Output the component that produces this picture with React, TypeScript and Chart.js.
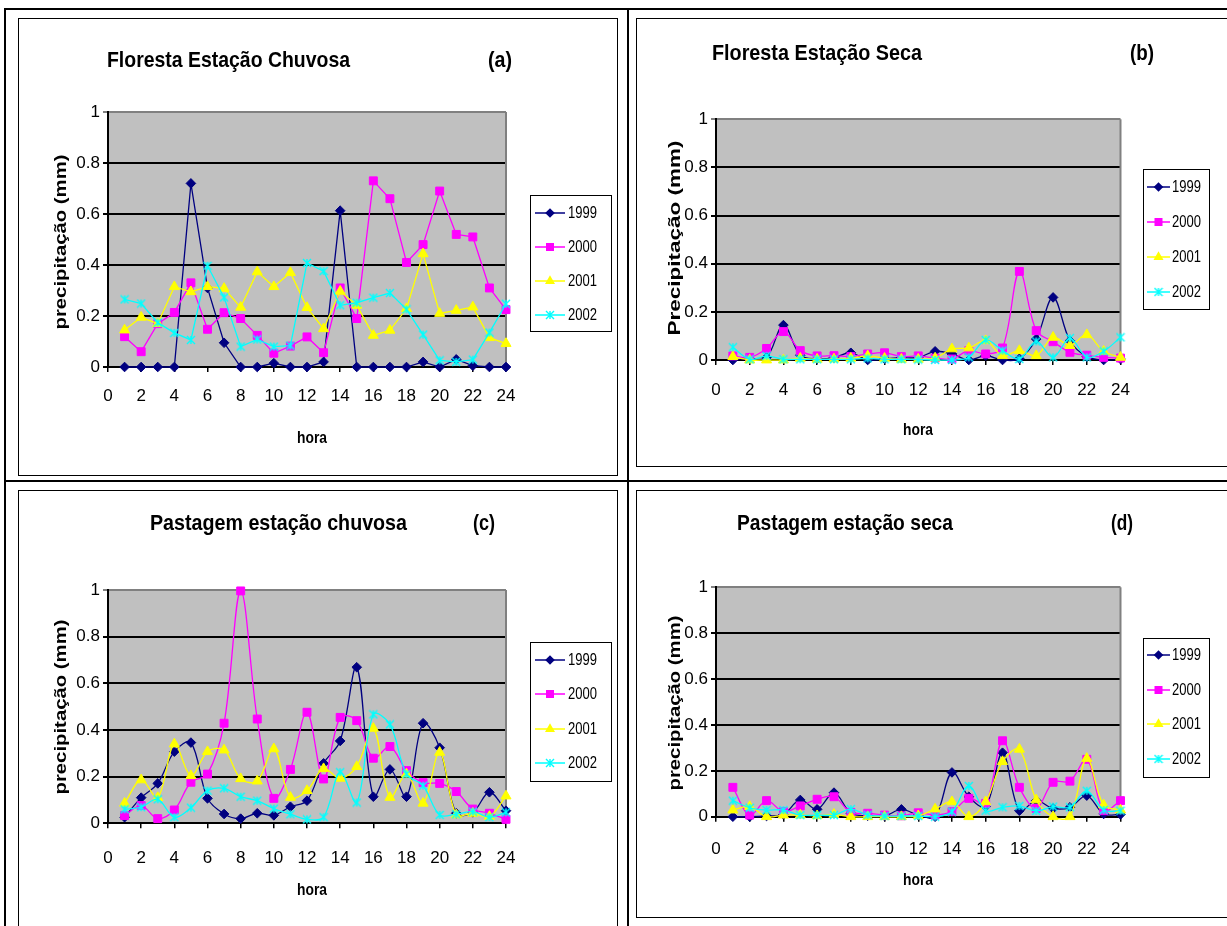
import React, { useEffect, useRef } from "react";
import { Chart, registerables } from "chart.js";

Chart.register(...registerables);

// ---------------- data ----------------
const hours = [1, 2, 3, 4, 5, 6, 7, 8, 9, 10, 11, 12, 13, 14, 15, 16, 17, 18, 19, 20, 21, 22, 23, 24];
const xTickValues = [0, 2, 4, 6, 8, 10, 12, 14, 16, 18, 20, 22, 24];
const xTickLabels = ["0", "2", "4", "6", "8", "10", "12", "14", "16", "18", "20", "22", "24"];
const yTickValues = [0, 0.2, 0.4, 0.6, 0.8, 1];
const yTickLabels = ["0", "0.2", "0.4", "0.6", "0.8", "1"];
const seriesNames = ["1999", "2000", "2001", "2002"];

// (a) Floresta Estação Chuvosa
const florestaChuvosa1999 = [0, 0, 0, 0, 0.72, 0.31, 0.095, 0, 0, 0.015, 0, 0, 0.02, 0.613, 0, 0, 0, 0, 0.02, 0, 0.03, 0.005, 0, 0];
const florestaChuvosa2000 = [0.119, 0.06, 0.17, 0.214, 0.33, 0.148, 0.213, 0.19, 0.124, 0.054, 0.082, 0.118, 0.056, 0.31, 0.19, 0.73, 0.66, 0.41, 0.48, 0.69, 0.52, 0.51, 0.31, 0.225];
const florestaChuvosa2001 = [0.145, 0.195, 0.17, 0.315, 0.295, 0.315, 0.308, 0.234, 0.373, 0.315, 0.37, 0.233, 0.15, 0.297, 0.242, 0.124, 0.144, 0.229, 0.444, 0.21, 0.222, 0.235, 0.115, 0.092];
const florestaChuvosa2002 = [0.265, 0.249, 0.174, 0.134, 0.106, 0.397, 0.273, 0.08, 0.108, 0.08, 0.084, 0.408, 0.376, 0.242, 0.252, 0.272, 0.29, 0.226, 0.127, 0.026, 0.02, 0.029, 0.135, 0.248];

// (b) Floresta Estação Seca
const florestaSeca1999 = [0, 0.005, 0.01, 0.145, 0.02, 0.005, 0.01, 0.03, 0, 0.005, 0.01, 0.01, 0.036, 0.025, 0, 0.018, 0, 0.005, 0.087, 0.26, 0.08, 0.014, 0, 0.004];
const florestaSeca2000 = [0.017, 0.011, 0.048, 0.118, 0.039, 0.017, 0.018, 0.014, 0.025, 0.03, 0.014, 0.017, 0.008, 0.004, 0.039, 0.025, 0.05, 0.368, 0.122, 0.076, 0.032, 0.02, 0.011, 0.008];
const florestaSeca2001 = [0.014, 0, 0, 0, 0.007, 0.003, 0.004, 0.007, 0.017, 0.007, 0.003, 0.003, 0.008, 0.046, 0.05, 0.08, 0.018, 0.039, 0.018, 0.094, 0.06, 0.105, 0.036, 0.011];
const florestaSeca2002 = [0.053, 0.003, 0.017, 0.003, 0.003, 0.003, 0.003, 0.003, 0.007, 0.003, 0.003, 0.002, 0, 0, 0.011, 0.083, 0.039, 0.004, 0.077, 0.011, 0.091, 0.011, 0.036, 0.094];

// (c) Pastagem estação chuvosa
const pastagemChuvosa1999 = [0.026, 0.11, 0.171, 0.307, 0.346, 0.107, 0.04, 0.02, 0.043, 0.034, 0.071, 0.097, 0.257, 0.353, 0.669, 0.114, 0.231, 0.114, 0.429, 0.324, 0.043, 0.047, 0.133, 0.054];
const pastagemChuvosa2000 = [0.033, 0.076, 0.02, 0.057, 0.176, 0.211, 0.429, 0.996, 0.447, 0.107, 0.231, 0.476, 0.19, 0.454, 0.44, 0.279, 0.329, 0.226, 0.174, 0.171, 0.136, 0.061, 0.043, 0.017];
const pastagemChuvosa2001 = [0.086, 0.186, 0.11, 0.34, 0.204, 0.307, 0.314, 0.191, 0.181, 0.319, 0.111, 0.14, 0.234, 0.193, 0.243, 0.407, 0.111, 0.211, 0.086, 0.304, 0.036, 0.043, 0.029, 0.117];
const pastagemChuvosa2002 = [0.06, 0.069, 0.103, 0.026, 0.067, 0.14, 0.15, 0.114, 0.097, 0.063, 0.039, 0.017, 0.026, 0.219, 0.089, 0.467, 0.424, 0.211, 0.161, 0.036, 0.039, 0.05, 0.026, 0.047];

// (d) Pastagem estação seca
const pastagemSeca1999 = [0, 0, 0.003, 0.01, 0.073, 0.032, 0.105, 0.015, 0.004, 0.003, 0.032, 0.007, 0, 0.193, 0.087, 0.044, 0.279, 0.026, 0.07, 0.036, 0.041, 0.092, 0.012, 0.01];
const pastagemSeca2000 = [0.128, 0.007, 0.07, 0.022, 0.047, 0.076, 0.087, 0.019, 0.015, 0.007, 0.004, 0.017, 0.007, 0.022, 0.08, 0.058, 0.331, 0.128, 0.036, 0.15, 0.155, 0.25, 0.026, 0.07];
const pastagemSeca2001 = [0.029, 0.044, 0, 0.007, 0.007, 0.004, 0.01, 0, 0, 0, 0, 0.004, 0.033, 0.065, 0, 0.065, 0.24, 0.294, 0.073, 0, 0, 0.254, 0.051, 0.029];
const pastagemSeca2002 = [0.07, 0.039, 0.029, 0.029, 0.007, 0.007, 0.007, 0.033, 0.007, 0.003, 0.003, 0.003, 0, 0.022, 0.134, 0.026, 0.041, 0.047, 0.025, 0.044, 0.041, 0.113, 0.029, 0.026];

// ---------------- styles / layout ----------------
const FONT = "'Liberation Sans', Arial, sans-serif";

const SERIES_STYLE = [
  { color: "#000080", marker: "diamond" },
  { color: "#FF00FF", marker: "square" },
  { color: "#FFFF00", marker: "triangle" },
  { color: "#00FFFF", marker: "star" },
];

type Legend = { l: number; t: number; r: number; b: number; rows: number[]; lx1: number; lx2: number; tx: number; tw: number };
type Panel = {
  key: string;
  box: { x: number; y: number; w: number; h: number };
  plot: { l: number; r: number; t: number; b: number };
  series: number[][];
  tension: number;
  title: string;
  titlePos: { x: number; y: number; w: number };
  tag: string;
  tagPos: { x: number; y: number; w: number };
  yTitle: string;
  yTitlePos: { x: number; y: number; len: number };
  xTitlePos: { x: number; y: number; w: number };
  tickGap: number;
  legend: Legend;
};

const PANELS: Panel[] = [
  {
    key: "a",
    box: { x: 18, y: 18, w: 600, h: 458 },
    plot: { l: 108, r: 506, t: 112, b: 367 },
    series: [florestaChuvosa1999, florestaChuvosa2000, florestaChuvosa2001, florestaChuvosa2002],
    tension: 0,
    title: "Floresta Estação Chuvosa",
    titlePos: { x: 107, y: 61, w: 243 },
    tag: "(a)",
    tagPos: { x: 500, y: 61, w: 24 },
    yTitle: "precipitação (mm)",
    yTitlePos: { x: 62, y: 242, len: 175 },
    xTitlePos: { x: 312, y: 438, w: 30 },
    tickGap: 14,
    legend: { l: 530, t: 195, r: 611, b: 331, rows: [213, 247, 281, 315], lx1: 535, lx2: 565, tx: 568, tw: 29 },
  },
  {
    key: "b",
    box: { x: 636, y: 18, w: 600, h: 449 },
    plot: { l: 716, r: 1120.5, t: 119.3, b: 360 },
    series: [florestaSeca1999, florestaSeca2000, florestaSeca2001, florestaSeca2002],
    tension: 0.35,
    title: "Floresta Estação Seca",
    titlePos: { x: 712, y: 54, w: 210 },
    tag: "(b)",
    tagPos: { x: 1142, y: 54, w: 24 },
    yTitle: "Precipitação (mm)",
    yTitlePos: { x: 676, y: 238, len: 195 },
    xTitlePos: { x: 918, y: 430, w: 30 },
    tickGap: 15,
    legend: { l: 1143, t: 169, r: 1209, b: 309, rows: [187, 222, 257, 292], lx1: 1147, lx2: 1170, tx: 1172, tw: 29 },
  },
  {
    key: "c",
    box: { x: 18, y: 490, w: 600, h: 450 },
    plot: { l: 108, r: 506, t: 590, b: 823.3 },
    series: [pastagemChuvosa1999, pastagemChuvosa2000, pastagemChuvosa2001, pastagemChuvosa2002],
    tension: 0.35,
    title: "Pastagem estação chuvosa",
    titlePos: { x: 150, y: 524, w: 257 },
    tag: "(c)",
    tagPos: { x: 484, y: 524, w: 22 },
    yTitle: "precipitação (mm)",
    yTitlePos: { x: 62, y: 707, len: 175 },
    xTitlePos: { x: 312, y: 890, w: 30 },
    tickGap: 20,
    legend: { l: 530, t: 642, r: 611, b: 781, rows: [660, 694, 729, 763], lx1: 535, lx2: 565, tx: 568, tw: 29 },
  },
  {
    key: "d",
    box: { x: 636, y: 490, w: 600, h: 428 },
    plot: { l: 716, r: 1120.5, t: 587.3, b: 816.7 },
    series: [pastagemSeca1999, pastagemSeca2000, pastagemSeca2001, pastagemSeca2002],
    tension: 0.35,
    title: "Pastagem estação seca",
    titlePos: { x: 737, y: 524, w: 216 },
    tag: "(d)",
    tagPos: { x: 1122, y: 524, w: 22 },
    yTitle: "precipitação (mm)",
    yTitlePos: { x: 676, y: 703, len: 175 },
    xTitlePos: { x: 918, y: 880, w: 30 },
    tickGap: 17,
    legend: { l: 1143, t: 638, r: 1209, b: 777, rows: [655, 690, 724, 759], lx1: 1147, lx2: 1170, tx: 1172, tw: 29 },
  },
];

// ---------------- helpers ----------------
function makeStar(color: string) {
  const size = 10;
  const c = document.createElement("canvas");
  c.width = size;
  c.height = size;
  const g = c.getContext("2d")!;
  g.strokeStyle = color;
  g.lineWidth = 1.4;
  g.beginPath();
  g.moveTo(1, 1);
  g.lineTo(size - 1, size - 1);
  g.moveTo(size - 1, 1);
  g.lineTo(1, size - 1);
  g.moveTo(size / 2, 1);
  g.lineTo(size / 2, size - 1);
  g.stroke();
  return c;
}

function drawText(
  ctx: CanvasRenderingContext2D,
  text: string,
  x: number,
  y: number,
  font: string,
  width: number,
  align: CanvasTextAlign,
  rotate = false
) {
  ctx.save();
  ctx.font = font;
  ctx.fillStyle = "#000";
  ctx.textBaseline = "middle";
  ctx.textAlign = align;
  const natural = ctx.measureText(text).width || 1;
  ctx.translate(x, y);
  if (rotate) ctx.rotate(-Math.PI / 2);
  ctx.scale(width / natural, 1);
  ctx.fillText(text, 0, 0);
  ctx.restore();
}

function drawMarker(ctx: CanvasRenderingContext2D, kind: string, x: number, y: number, color: string, star: HTMLCanvasElement) {
  ctx.save();
  ctx.fillStyle = color;
  ctx.strokeStyle = color;
  ctx.lineWidth = 1;
  if (kind === "diamond") {
    const r = 4.8;
    ctx.beginPath();
    ctx.moveTo(x, y - r);
    ctx.lineTo(x + r, y);
    ctx.lineTo(x, y + r);
    ctx.lineTo(x - r, y);
    ctx.closePath();
    ctx.fill();
  } else if (kind === "square") {
    ctx.fillRect(x - 4, y - 4, 8, 8);
  } else if (kind === "triangle") {
    const r = 5.8;
    ctx.beginPath();
    ctx.moveTo(x, y - r);
    ctx.lineTo(x + r * 0.866, y + r / 2);
    ctx.lineTo(x - r * 0.866, y + r / 2);
    ctx.closePath();
    ctx.fill();
  } else {
    ctx.drawImage(star, x - star.width / 2, y - star.height / 2);
  }
  ctx.restore();
}

function PanelChart({ p }: { p: Panel }) {
  const ref = useRef<HTMLCanvasElement | null>(null);

  useEffect(() => {
    const canvas = ref.current;
    if (!canvas) return;
    const ox = p.box.x;
    const oy = p.box.y;
    const plotL = p.plot.l - ox;
    const plotR = p.plot.r - ox;
    const plotT = p.plot.t - oy;
    const plotB = p.plot.b - oy;
    const Y_W = 40;
    const X_H = 45;
    const star = makeStar(SERIES_STYLE[3].color);

    const decoPlugin = {
      id: "excelDeco",
      beforeDraw(chart: any) {
        const { ctx, chartArea: a } = chart;
        ctx.save();
        ctx.fillStyle = "#fff";
        ctx.fillRect(0, 0, chart.width, chart.height);
        ctx.fillStyle = "#C0C0C0";
        ctx.fillRect(a.left, a.top, a.right - a.left, a.bottom - a.top);
        ctx.restore();
      },
      beforeDatasetsDraw(chart: any) {
        const { ctx, chartArea: a } = chart;
        ctx.save();
        ctx.strokeStyle = "#808080";
        ctx.lineWidth = 2;
        ctx.beginPath();
        ctx.moveTo(a.right, a.top);
        ctx.lineTo(a.right, a.bottom);
        ctx.stroke();
        ctx.restore();
      },
      afterDraw(chart: any) {
        const ctx: CanvasRenderingContext2D = chart.ctx;
        // titles
        drawText(ctx, p.title, p.titlePos.x - ox, p.titlePos.y - oy, `bold 22px ${FONT}`, p.titlePos.w, "left");
        drawText(ctx, p.tag, p.tagPos.x - ox, p.tagPos.y - oy, `bold 22px ${FONT}`, p.tagPos.w, "center");
        // axis titles
        drawText(ctx, p.yTitle, p.yTitlePos.x - ox, p.yTitlePos.y - oy, `bold 16px ${FONT}`, p.yTitlePos.len, "center", true);
        drawText(ctx, "hora", p.xTitlePos.x - ox, p.xTitlePos.y - oy, `bold 17px ${FONT}`, p.xTitlePos.w, "center");
        // legend
        const L = p.legend;
        ctx.save();
        ctx.fillStyle = "#fff";
        ctx.fillRect(L.l - ox, L.t - oy, L.r - L.l, L.b - L.t);
        ctx.strokeStyle = "#000";
        ctx.lineWidth = 1;
        ctx.strokeRect(L.l - ox + 0.5, L.t - oy + 0.5, L.r - L.l, L.b - L.t);
        ctx.restore();
        seriesNames.forEach((name, i) => {
          const st = SERIES_STYLE[i];
          const ry = L.rows[i] - oy;
          ctx.save();
          ctx.strokeStyle = st.color;
          ctx.lineWidth = 1.5;
          ctx.beginPath();
          ctx.moveTo(L.lx1 - ox, ry);
          ctx.lineTo(L.lx2 - ox, ry);
          ctx.stroke();
          ctx.restore();
          drawMarker(ctx, st.marker, (L.lx1 + L.lx2) / 2 - ox, ry, st.color, star);
          drawText(ctx, name, L.tx - ox, ry, `17px ${FONT}`, L.tw, "left");
        });
      },
    };

    const pointStyles: any[] = ["rectRot", "rect", "triangle", star];
    const radii = [4.8, 5.6, 5.8, 5];

    const datasets = p.series.map((vals, i) => ({
      label: seriesNames[i],
      data: hours.map((h, j) => ({ x: h, y: vals[j] })),
      borderColor: SERIES_STYLE[i].color,
      backgroundColor: SERIES_STYLE[i].color,
      pointBackgroundColor: SERIES_STYLE[i].color,
      pointBorderColor: SERIES_STYLE[i].color,
      pointBorderWidth: 1,
      pointStyle: pointStyles[i],
      pointRadius: radii[i],
      borderWidth: 1.3,
      tension: p.tension,
      clip: false as any,
      order: 3 - i,
    }));

    const chart = new Chart(canvas, {
      type: "line",
      data: { datasets },
      plugins: [decoPlugin as any],
      options: {
        responsive: false,
        animation: false,
        devicePixelRatio: 1,
        events: [],
        layout: {
          padding: {
            left: plotL - Y_W,
            right: p.box.w - plotR,
            top: plotT,
            bottom: p.box.h - plotB - X_H,
          },
        },
        elements: { line: { capBezierPoints: false } },
        plugins: {
          legend: { display: false },
          title: { display: false },
          tooltip: { enabled: false },
        },
        scales: {
          x: {
            type: "linear",
            min: 0,
            max: 24,
            afterBuildTicks: (s: any) => {
              s.ticks = xTickValues.map((v) => ({ value: v }));
            },
            afterFit: (s: any) => {
              s.height = X_H;
            },
            ticks: {
              color: "#000",
              font: { family: FONT, size: 17 },
              padding: p.tickGap,
              maxRotation: 0,
              autoSkip: false,
              callback: (_v: any, i: number) => xTickLabels[i],
            },
            grid: { drawOnChartArea: false, drawTicks: true, tickLength: 5, color: "#000", lineWidth: 1.5 },
            border: { display: true, color: "#000", width: 2 },
          },
          y: {
            type: "linear",
            min: 0,
            max: 1,
            afterBuildTicks: (s: any) => {
              s.ticks = yTickValues.map((v) => ({ value: v }));
            },
            afterFit: (s: any) => {
              s.width = Y_W;
            },
            ticks: {
              color: "#000",
              font: { family: FONT, size: 17 },
              padding: 3,
              callback: (_v: any, i: number) => yTickLabels[i],
            },
            grid: {
              drawTicks: true,
              tickLength: 5,
              lineWidth: 2,
              color: (c: any) => (c.tick && c.tick.value === 1 ? "#808080" : "#000"),
            },
            border: { display: true, color: "#000", width: 2 },
          },
        },
      } as any,
    });
    return () => chart.destroy();
  }, [p]);

  return (
    <canvas
      ref={ref}
      width={p.box.w}
      height={p.box.h}
      style={{ position: "absolute", left: p.box.x, top: p.box.y, width: p.box.w, height: p.box.h, display: "block" }}
    />
  );
}

export default function App() {
  return (
    <div style={{ position: "absolute", left: 0, top: 0, width: 1227, height: 926, overflow: "hidden", background: "#fff" }}>
      {PANELS.map((p) => (
        <PanelChart key={p.key} p={p} />
      ))}
      {/* panel frames */}
      {PANELS.map((p) => (
        <div
          key={"f" + p.key}
          style={{
            position: "absolute",
            left: p.box.x,
            top: p.box.y,
            width: p.box.w,
            height: p.box.h,
            border: "1px solid #000",
            boxSizing: "border-box",
            pointerEvents: "none",
          }}
        />
      ))}
      {/* table grid */}
      <div style={{ position: "absolute", left: 4, top: 8, width: 1400, height: 1100, border: "2px solid #000", boxSizing: "border-box" }} />
      <div style={{ position: "absolute", left: 627, top: 8, width: 2, height: 930, background: "#000" }} />
      <div style={{ position: "absolute", left: 4, top: 480, width: 1400, height: 2, background: "#000" }} />
    </div>
  );
}
